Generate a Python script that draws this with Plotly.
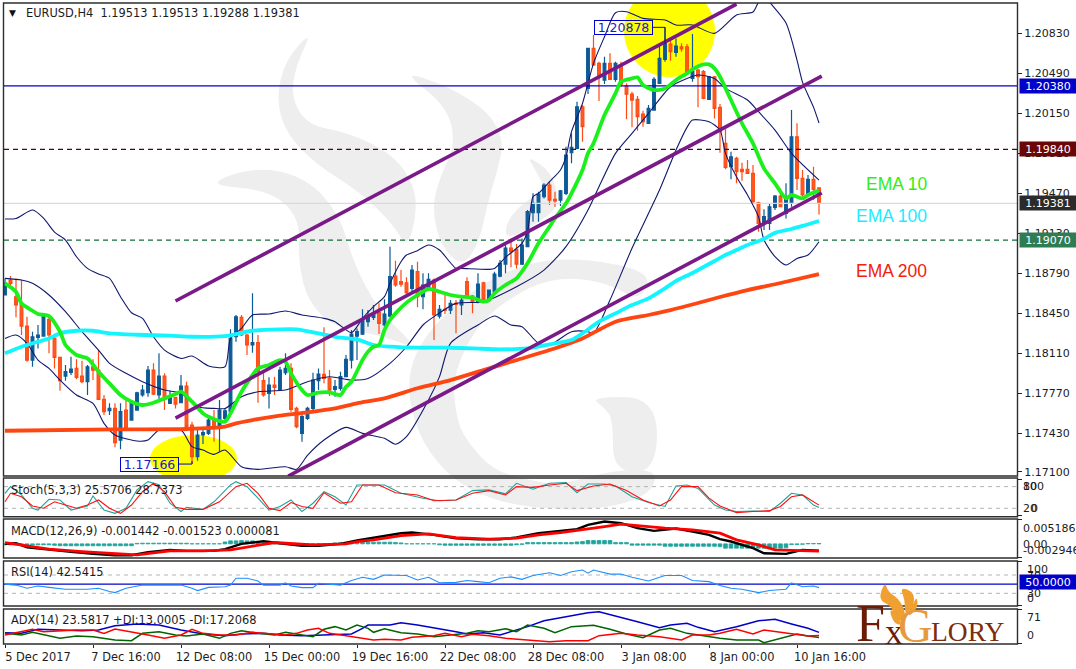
import plotly.graph_objects as go

# ---------- price data (4h bars) ----------
bar_index = list(range(149))
opens = [1.18603,1.18730,1.18588,1.18526,1.18339,1.18050,1.18243,1.18254,1.18396,1.18234,
1.18073,1.17914,1.17945,1.17979,1.17914,1.17866,1.17993,1.17965,1.17716,1.17620,
1.17639,1.17370,1.17625,1.17540,1.17625,1.17753,1.17772,1.17965,1.17753,1.17914,
1.17682,1.17733,1.17687,1.17829,1.17498,1.17229,1.17413,1.17427,1.17540,1.17469,
1.17554,1.17611,1.18248,1.18413,1.18263,1.18178,1.18198,1.17875,1.17767,1.17838,
1.17801,1.17943,1.17979,1.17639,1.17427,1.17555,1.17639,1.17875,1.17929,1.17894,
1.17801,1.17810,1.17909,1.18050,1.18254,1.18271,1.18376,1.18413,1.18453,1.18348,
1.18424,1.18764,1.18716,1.18707,1.18659,1.18801,1.18588,1.18668,1.18730,1.18424,
1.18481,1.18475,1.18532,1.18518,1.18716,1.18594,1.18546,1.18707,1.18560,1.18631,
1.18764,1.18866,1.19001,1.18991,1.18866,1.19013,1.19302,1.19302,1.19438,1.19538,
1.19416,1.19410,1.19467,1.19812,1.19849,1.20203,1.20359,1.20699,1.20572,1.20430,
1.20572,1.20436,1.20558,1.20379,1.20311,1.20266,1.20141,1.20062,1.20175,1.20402,
1.20606,1.20736,1.20665,1.20713,1.20713,1.20444,1.20515,1.20501,1.20266,1.20458,
1.20198,1.19892,1.19693,1.19764,1.19671,1.19671,1.19637,1.19388,1.19212,1.19212,
1.19348,1.19444,1.19297,1.19382,1.19948,1.19594,1.19453,1.19586,1.19513]
closes = [1.18702,1.18702,1.18518,1.18339,1.18050,1.18248,1.18263,1.18424,1.18263,1.18073,
1.17874,1.17951,1.17974,1.17903,1.17866,1.17993,1.17965,1.17716,1.17611,1.17639,
1.17347,1.17611,1.17469,1.17687,1.17772,1.17795,1.17965,1.17761,1.17914,1.17716,
1.17733,1.17676,1.17829,1.17484,1.17229,1.17413,1.17433,1.17540,1.17469,1.17625,
1.17619,1.18234,1.18418,1.18263,1.18178,1.18198,1.17951,1.17753,1.17838,1.17818,
1.17965,1.17979,1.17631,1.17484,1.17569,1.17639,1.17880,1.17931,1.17894,1.17795,
1.17824,1.17909,1.18056,1.18271,1.18291,1.18390,1.18419,1.18447,1.18362,1.18441,
1.18759,1.18688,1.18696,1.18622,1.18815,1.18588,1.18688,1.18736,1.18433,1.18481,
1.18475,1.18532,1.18523,1.18560,1.18588,1.18546,1.18696,1.18566,1.18645,1.18781,
1.18872,1.19001,1.18971,1.18866,1.19028,1.19311,1.19382,1.19461,1.19538,1.19410,
1.19402,1.19489,1.19793,1.19858,1.20203,1.20033,1.20699,1.20558,1.20458,1.20572,
1.20436,1.20572,1.20396,1.20311,1.20260,1.20118,1.20076,1.20189,1.20436,1.20614,
1.20742,1.20671,1.20719,1.20694,1.20492,1.20501,1.20458,1.20274,1.20458,1.20189,
1.19991,1.19688,1.19778,1.19651,1.19651,1.19637,1.19396,1.19212,1.19269,1.19353,
1.19444,1.19353,1.19438,1.19948,1.19594,1.19453,1.19586,1.19501,1.19381]
highs = [1.18744,1.18764,1.18744,1.18730,1.18418,1.18291,1.18348,1.18433,1.18433,1.18263,
1.18078,1.18008,1.18078,1.18056,1.18044,1.18008,1.18056,1.18135,1.17753,1.17682,
1.17682,1.17682,1.17710,1.17710,1.17781,1.17838,1.18000,1.18022,1.18107,1.17937,
1.17789,1.17738,1.17923,1.17866,1.17526,1.17469,1.17469,1.17568,1.17625,1.17710,
1.17639,1.18311,1.18433,1.18433,1.18271,1.18617,1.18263,1.17951,1.17903,1.17909,
1.17994,1.18107,1.18022,1.17654,1.17583,1.17654,1.17943,1.17979,1.18328,1.17965,
1.17880,1.17951,1.18093,1.18305,1.18319,1.18481,1.18475,1.18518,1.18532,1.18566,
1.19014,1.18894,1.18815,1.18753,1.18858,1.18886,1.18787,1.18787,1.18744,1.18518,
1.18617,1.18560,1.18560,1.18588,1.18753,1.18603,1.18787,1.18716,1.18645,1.18801,
1.18900,1.19028,1.19084,1.19036,1.19084,1.19325,1.19467,1.19481,1.19552,1.19566,
1.19481,1.19495,1.19863,1.19977,1.20246,1.20218,1.20699,1.20813,1.20586,1.20628,
1.20657,1.20586,1.20586,1.20402,1.20331,1.20294,1.20169,1.20218,1.20453,1.20742,
1.20878,1.20776,1.20784,1.20742,1.20736,1.20821,1.20529,1.20515,1.20458,1.20464,
1.20226,1.20011,1.19821,1.19778,1.19727,1.19750,1.19708,1.19396,1.19331,1.19382,
1.19453,1.19509,1.19552,1.20175,1.20062,1.19665,1.19623,1.19693,1.19513]
lows = [1.18603,1.18688,1.18413,1.18263,1.18036,1.17993,1.18149,1.18248,1.18107,1.17979,
1.17789,1.17874,1.17923,1.17886,1.17852,1.17753,1.17880,1.17710,1.17583,1.17583,
1.17308,1.17291,1.17461,1.17535,1.17619,1.17738,1.17738,1.17753,1.17710,1.17625,
1.17682,1.17639,1.17682,1.17469,1.17166,1.17195,1.17336,1.17413,1.17356,1.17271,
1.17540,1.17597,1.18206,1.18254,1.18093,1.18113,1.17688,1.17739,1.17639,1.17753,
1.17790,1.17923,1.17611,1.17470,1.17356,1.17540,1.17597,1.17795,1.17852,1.17744,
1.17739,1.17790,1.17903,1.17979,1.18050,1.18263,1.18334,1.18390,1.18271,1.18305,
1.18413,1.18673,1.18673,1.18611,1.18622,1.18498,1.18481,1.18645,1.18220,1.18404,
1.18441,1.18441,1.18277,1.18433,1.18574,1.18447,1.18532,1.18546,1.18546,1.18617,
1.18753,1.18787,1.18838,1.18829,1.18858,1.19008,1.19226,1.19226,1.19424,1.19368,
1.19353,1.19359,1.19453,1.19722,1.19841,1.19906,1.20311,1.20549,1.20252,1.20396,
1.20430,1.20416,1.20373,1.20096,1.20028,1.19999,1.20033,1.20056,1.20169,1.20402,
1.20586,1.20594,1.20628,1.20671,1.20473,1.20416,1.20198,1.20266,1.20260,1.20104,
1.19812,1.19671,1.19586,1.19552,1.19575,1.19631,1.19382,1.19141,1.19155,1.19155,
1.19325,1.19353,1.19254,1.19353,1.19495,1.19438,1.19453,1.19410,1.19288]

ema10_i = [0,2,3,5,6,8,10,11,13,15,17,19,21,23,25,27,29,31,32,34,36,37,40,41,43,45,46,48,50,51,52,54,55,57,59,61,62,63,65,66,67,68,69,70,71,73,75,77,79,81,83,85,87,88,89,91,93,95,97,99,100,102,103,105,106,107,109,111,112,114,115,116,118,120,122,124,125,127,128,129,130,132,134,136,138,140,142,143,145,146,148]
ema10 = [1.18702,1.18631,1.18532,1.18469,1.18441,1.18424,1.18291,1.18178,1.18093,1.18064,1.17951,1.17852,1.17753,1.17696,1.17668,1.17687,1.17724,1.17761,1.17781,1.17696,1.17597,1.17568,1.17526,1.17597,1.17781,1.17923,1.17979,1.18008,1.18050,1.18036,1.17937,1.17795,1.17753,1.17773,1.17775,1.17753,1.17823,1.17866,1.18050,1.18121,1.18163,1.18178,1.18305,1.18390,1.18447,1.18538,1.18603,1.18654,1.18631,1.18603,1.18589,1.18580,1.18546,1.18560,1.18617,1.18688,1.18744,1.18872,1.19042,1.19184,1.19254,1.19382,1.19467,1.19665,1.19807,1.19892,1.20133,1.20317,1.20416,1.20444,1.20453,1.20388,1.20345,1.20359,1.20430,1.20487,1.20521,1.20563,1.20563,1.20529,1.20458,1.20260,1.20062,1.19892,1.19679,1.19552,1.19424,1.19453,1.19424,1.19453,1.19490]

ema100_i = [0,3,5,8,10,13,16,19,24,30,34,40,45,50,53,57,60,64,67,70,75,80,85,90,95,100,103,105,108,111,114,117,120,122,125,129,131,133,135,138,140,143,145,148]
ema100 = [1.18107,1.18163,1.18192,1.18234,1.18277,1.18299,1.18299,1.18277,1.18265,1.18257,1.18248,1.18254,1.18299,1.18311,1.18311,1.18277,1.18248,1.18225,1.18178,1.18164,1.18155,1.18155,1.18149,1.18141,1.18149,1.18192,1.18220,1.18277,1.18376,1.18447,1.18518,1.18574,1.18659,1.18722,1.18790,1.18892,1.18943,1.18985,1.19028,1.19079,1.19131,1.19164,1.19190,1.19232]

ema200_i = [0,20,33,40,42,45,50,55,60,64,69,75,81,87,93,99,105,111,117,121,126,130,135,141,148]
ema200 = [1.17449,1.17461,1.17464,1.17484,1.17512,1.17540,1.17577,1.17605,1.17639,1.17682,1.17724,1.17810,1.17880,1.17965,1.18050,1.18135,1.18234,1.18376,1.18433,1.18475,1.18535,1.18586,1.18645,1.18705,1.18781]

bb_up_i = [0,2,5,7,9,11,13,15,17,19,21,23,25,27,29,32,34,37,40,41,43,45,48,51,54,58,60,63,65,67,69,70,72,73,75,77,79,82,83,88,89,91,94,95,96,97,99,101,102,103,105,107,109,111,113,116,120,122,125,129,133,136,137,138,139,142,144,145,147,148]
bb_up = [1.19249,1.19253,1.19325,1.19257,1.19138,1.19070,1.18928,1.18829,1.18781,1.18744,1.18588,1.18452,1.18404,1.18248,1.18135,1.18064,1.18084,1.18000,1.17993,1.18234,1.18319,1.18433,1.18441,1.18467,1.18433,1.18404,1.18376,1.18283,1.18404,1.18504,1.18589,1.18702,1.18886,1.18943,1.18980,1.19028,1.18985,1.18829,1.18829,1.18821,1.18829,1.18923,1.19042,1.19141,1.19438,1.19467,1.19566,1.19666,1.19779,1.19991,1.20232,1.20572,1.20798,1.21002,1.21011,1.20954,1.20940,1.20898,1.20898,1.20827,1.20983,1.21008,1.21093,1.21150,1.21093,1.20915,1.20600,1.20413,1.20200,1.20065]

bb_mid_i = [0,3,5,8,11,14,17,19,22,25,29,32,35,38,40,43,46,51,55,59,63,66,70,73,76,78,82,87,93,98,102,106,108,111,114,117,121,124,126,129,131,135,137,140,143,148]
bb_mid = [1.18744,1.18730,1.18702,1.18603,1.18461,1.18291,1.18135,1.18022,1.17937,1.17866,1.17795,1.17767,1.17653,1.17639,1.17639,1.17738,1.17781,1.17795,1.17866,1.17908,1.17880,1.17894,1.18022,1.18163,1.18348,1.18419,1.18532,1.18546,1.18674,1.18815,1.19014,1.19325,1.19523,1.19807,1.19977,1.20147,1.20373,1.20444,1.20473,1.20444,1.20359,1.20260,1.20161,1.20005,1.19807,1.19580]

bb_lo_i = [0,2,4,6,8,10,13,16,18,20,24,26,28,32,34,36,38,40,43,46,51,53,55,58,62,65,69,71,73,77,79,81,86,89,92,94,97,99,103,106,107,110,114,119,122,124,125,128,130,131,133,135,137,138,140,142,144,146,148]
bb_lo = [1.18234,1.18263,1.18192,1.18050,1.17979,1.17880,1.17753,1.17682,1.17512,1.17413,1.17362,1.17370,1.17455,1.17455,1.17314,1.17285,1.17248,1.17285,1.17143,1.17121,1.17143,1.17121,1.17240,1.17370,1.17478,1.17427,1.17385,1.17334,1.17399,1.17710,1.17909,1.18192,1.18348,1.18424,1.18348,1.18334,1.18192,1.18178,1.18291,1.18291,1.18277,1.18560,1.19000,1.19495,1.19835,1.20028,1.20090,1.20076,1.20005,1.19807,1.19608,1.19453,1.19268,1.19070,1.18929,1.18858,1.18914,1.18943,1.19056]

channel_i = [31, 133]
channel_top = [1.18552, 1.21076]
channel_mid_i = [31, 148.5]
channel_mid = [1.17557, 1.20464]
channel_low_i = [51.5, 148.5]
channel_low = [1.17064, 1.19470]

level_resistance = 1.20380
level_pivot = 1.19840
level_last = 1.19381
level_support = 1.19070
swing_low = 1.17166
swing_high = 1.20878

price_ticks = [1.20830,1.20490,1.20150,1.19810,1.19470,1.19130,1.18790,1.18450,1.18110,1.17770,1.17430,1.17100]
time_ticks = [0,16,32,48,64,80,96,112,128,144]
time_labels = ["5 Dec 2017","7 Dec 16:00","12 Dec 08:00","15 Dec 00:00","19 Dec 16:00","22 Dec 08:00","28 Dec 08:00","3 Jan 08:00","8 Jan 00:00","10 Jan 16:00"]

# ---------- indicators ----------
stoch_main_i = [0,1,3,5,6,8,10,12,15,16,18,20,22,24,26,28,30,32,33,36,38,41,42,44,46,48,50,52,54,56,58,60,62,64,66,69,72,76,79,82,85,88,91,93,96,99,102,104,106,109,111,114,117,120,122,124,126,129,131,133,136,139,141,143,145,147,148]
stoch_main = [61.5,80,57,20,15,45,43,15,26.5,54,15,6,20,71,93.8,85,34,11,23,17,38,84.6,93.8,80,48,15,25,43,11,34,66,52,29,84.6,84.6,84.6,61.5,48,41,43,69,71,60,89.2,73,89.2,91,63,87.4,87.4,81.8,52,36,25,81.8,84.6,75,29,15,11,12.6,11,34,61.5,57,29,22]
stoch_sig_i = [0,1,3,5,7,9,11,13,15,17,19,21,23,25,27,29,31,33,36,39,42,44,46,48,50,52,54,56,58,61,63,65,68,71,75,78,82,85,88,91,93,96,99,102,104,107,110,113,116,119,121,123,126,128,130,133,136,139,141,143,145,147,148]
stoch_sig = [38,61.5,52,26.5,20,38,29,20,29,43,20,6,29,66,89.2,66,23,17,17,38,80,89.2,61.5,20,13.5,36,25,20,63,34,38,84.6,84.6,63,57,41,43,61.5,69,57,80,78,84.6,89.2,69,81.8,87.4,69,43,26.5,43,80,80,48,26.5,8,11,13.5,25,52,57,38,28.7]

macd_main_i = [0,2,4,8,12,16,20,23,26,30,33,38,40,43,47,50,54,57,61,64,67,70,72,74,78,82,86,90,93,97,100,104,106,109,112,115,118,122,125,128,130,132,136,138,142,145,148]
macd_main = [0,0.00014,-0.00070,-0.00111,-0.00167,-0.00209,-0.00236,-0.00236,-0.00174,-0.00125,-0.00146,-0.00146,-0.00111,0,0.00056,0.00014,-0.00042,-0.00042,0,0.00070,0.00132,0.00188,0.00222,0.00236,0.00188,0.00118,0.00097,0.00097,0.00132,0.00222,0.00257,0.00306,0.00396,0.004657,0.00431,0.00327,0.00271,0.00320,0.00257,0.00188,0.00097,0.00049,-0.00090,-0.00195,-0.00209,-0.00125,-0.00144]
macd_sig_i = [0,3,8,14,20,24,30,36,41,45,49,56,62,64,67,72,77,82,88,93,97,101,105,109,112,116,120,125,130,133,137,140,144,148]
macd_sig = [0.00028,-0.00021,-0.00111,-0.00160,-0.00209,-0.00229,-0.00146,-0.00146,-0.00125,-0.00042,0.00028,-0.00021,0,0.00049,0.00083,0.00174,0.00209,0.00132,0.00097,0.00118,0.00188,0.00236,0.00292,0.00361,0.00410,0.00361,0.00327,0.00292,0.00222,0.00083,-0.00021,-0.00125,-0.00139,-0.00152]
macd_hist = [-0.0002,-0.0002,-0.0002,-0.0002,-0.0002,-0.0002,-0.0002,-0.0002,-0.0002,-0.0003,
-0.0004,-0.0004,-0.0004,-0.0004,-0.0004,-0.0004,-0.0004,-0.0004,-0.0004,-0.0004,
-0.0004,-0.0004,-0.0004,-0.0004,0.0001,0.00014,0.00014,0.00014,0.00014,0.00014,
0.00014,0.00014,0.00014,0.00014,0.00002,0.00002,0.00002,0.00002,0.00002,0.00002,
0.0004,0.00063,0.00063,0.0007,0.00063,0.00063,0.0005,0.00002,0.00002,0.00002,
0.00002,0.00002,0.00002,0.00002,0.00002,0.00002,0.00002,0.00002,0.00002,0.00002,
0.0002,0.0003,0.0003,0.0003,0.0003,0.00035,0.00035,0.00035,0.00035,0.00035,
0.00035,0.0003,0.0002,0.00002,0.00002,0.00002,0.00002,0.00002,0.00002,-0.0002,
-0.0003,-0.0003,-0.0003,-0.0003,-0.0003,-0.0003,-0.0003,-0.0003,-0.0003,-0.0003,
-0.0003,-0.0003,-0.0003,-0.0002,-0.0001,0.00028,0.00028,0.00028,0.00028,0.00028,
0.00028,0.00028,0.00028,0.00028,0.0004,0.0005,0.0007,0.0007,0.0007,0.0007,
0.0007,0.00028,0.00028,0.00028,-0.00028,-0.00028,-0.00028,-0.00028,-0.00028,-0.00028,
-0.0005,-0.0005,-0.0005,-0.0005,-0.0005,-0.0005,-0.0005,-0.0005,-0.0005,-0.0005,
-0.0006,-0.0009,-0.0009,-0.0009,-0.0009,-0.0009,-0.0009,-0.0009,-0.0009,-0.0009,
-0.0009,-0.0009,-0.0008,-0.00014,-0.00014,-0.00008,0.00008,0.00008,0.00008]

rsi_i = [0,2,4,6,8,11,15,17,19,20,22,25,28,32,34,35,37,40,41,42,44,46,47,50,51,52,54,56,57,59,61,63,65,67,69,73,75,77,79,82,84,86,88,90,92,94,96,99,101,103,105,106,107,110,112,114,117,120,123,125,128,130,132,134,137,139,142,143,145,147,148]
rsi_vals = [50,48,41,46,43,39,39,41,34,31.5,41,48,48,48,41,36,43,44.5,48,63,63,57,48,48,53,46,42.4,42.4,52,50,48,58,65,60.5,70,69,59,65,53,54,58,55.5,53,63,66,60.5,69,75,69,77,81,74,81,72,72,65,57,69,69,58,55.5,47,41,39,31.5,36,39,53,44.5,46,42.5]

adx_i = [0,3,6,10,14,17,20,24,28,32,36,40,43,47,50,54,57,60,63,65,66,70,72,75,78,82,84,87,90,92,95,98,102,106,108,111,115,119,121,124,126,129,133,137,140,143,146,148]
adx_vals = [23,21.6,29.8,28.4,27,28.4,37.2,40.6,38.5,28.4,20.3,16.9,20.3,21.6,18.3,16.9,18.3,20.3,20.3,31.8,38.5,38.5,43.3,38.5,33.1,25,20.3,23,18.3,25,35.2,47.3,55.5,63.6,65.6,57.5,45.3,33.1,38.5,42,33.8,25,35.2,47.3,50,40.6,31.8,23.6]
plus_di_i = [0,3,5,7,10,13,16,20,23,25,28,31,33,36,39,41,43,46,49,51,54,56,58,60,62,64,66,67,69,72,75,78,81,84,86,88,91,93,95,98,100,103,105,107,110,113,116,119,121,124,127,130,133,137,138,141,144,146,148]
plus_di = [21.6,18.3,23.7,18.3,11.5,16.2,14.9,8.1,6.8,21.6,25,18.3,16.2,20.3,11.5,21.6,27,21.6,18.3,23.7,18.3,14.9,29.8,35.2,28.4,38.5,31.8,23.7,31.1,23,20.3,14.9,18.3,21.6,27,25,31.1,25,38.5,31.8,23,35.2,36.5,37.9,29.8,20.3,12.8,28.4,31.8,21.6,16.9,11.5,8.1,8.1,2.7,11.5,20.3,16.2,13]
minus_di_i = [0,3,5,7,10,13,16,18,20,23,26,29,32,34,36,39,42,45,48,51,53,55,57,59,62,65,67,69,72,74,78,80,83,85,88,91,95,99,102,106,108,112,115,119,123,125,128,130,133,136,138,140,143,146,148]
minus_di = [18.3,25,29.8,25,27,28.4,28.4,21.6,30.4,25,18.3,11.5,18.3,29.8,21.6,18.3,18.3,23.7,20.3,18.3,21.6,28.4,31.8,21.6,16.9,11.5,8.1,9.5,8.1,13.5,16.9,21.6,14.9,19.6,16.9,11.5,8.1,4.7,6.8,6.8,16.9,21.6,18.3,14.9,8.1,18.3,18.3,21.6,29.8,20.3,28.4,25,20.3,16.2,17.2]

stoch_levels = [80, 20]
rsi_levels = [70, 30]
rsi_mid = 50.0

W, H = 1076, 669
def px(x): return x / W
def py(y): return 1 - y / H
def price_at(y): return 1.211105 - 0.000085 * y
def bar_at(x): return (x - 5) / 5.5

def smooth(points):
    n = len(points)
    mx, my = (points[-1][0] + points[0][0]) / 2, (points[-1][1] + points[0][1]) / 2
    d = f"M {px(mx):.5f},{py(my):.5f} "
    for k in range(n):
        a = points[k]; b = points[(k + 1) % n]
        m = ((a[0] + b[0]) / 2, (a[1] + b[1]) / 2)
        d += f"Q {px(a[0]):.5f},{py(a[1]):.5f} {px(m[0]):.5f},{py(m[1]):.5f} "
    return d + "Z"

XMAX = bar_at(1017)
XMIN = bar_at(4)
FONT = "DejaVu Sans"
TXT = "#1c1c1c"

fig = go.Figure()

def line(xs, ys, color, width, yaxis="y", shape="linear", dash=None):
    fig.add_trace(go.Scatter(x=xs, y=ys, mode="lines", yaxis=yaxis, hoverinfo="skip", showlegend=False,
                             line=dict(color=color, width=width, shape=shape, smoothing=0.7, dash=dash)))

# main panel
line([XMIN, XMAX], [level_last]*2, "#d9d9d9", 1.3)
line([XMIN, XMAX], [level_pivot]*2, "#4a0808", 1.2, dash="5px,4px")
line([XMIN, XMAX], [level_support]*2, "#0f6e3a", 1.2, dash="5px,4px")
line([XMIN, XMAX], [level_resistance]*2, "#0000d0", 1.3)

fig.add_trace(go.Candlestick(x=bar_index, open=opens, high=highs, low=lows, close=closes, whiskerwidth=0,
    increasing=dict(line=dict(color="#0d5a98", width=1.2), fillcolor="#0d5a98"),
    decreasing=dict(line=dict(color="#ff4a12", width=1.2), fillcolor="#ff5a25"),
    hoverinfo="skip", showlegend=False))

line(bb_up_i, bb_up, "#10186f", 1.1, shape="spline")
line(bb_mid_i, bb_mid, "#10186f", 1.1, shape="spline")
line(bb_lo_i, bb_lo, "#10186f", 1.1, shape="spline")
line(ema200_i, ema200, "#ff4510", 3.8, shape="spline")
line(ema100_i, ema100, "#14f4ff", 3.8, shape="spline")
line(ema10_i, ema10, "#1cf01c", 3.8, shape="spline")
line(channel_i, channel_top, "#7a1a88", 3.6)
line(channel_mid_i, channel_mid, "#7a1a88", 3.6)
line(channel_low_i, channel_low, "#7a1a88", 3.6)
line([bar_at(178), 34, 34], [swing_low, swing_low, swing_low + 0.00025], "#0000c8", 1)
line([bar_at(652), 120, 120], [swing_high, swing_high, swing_high - 0.00140], "#10186f", 1)

# stochastic
for lv in stoch_levels:
    line([XMIN, XMAX], [lv, lv], "#b4b4b4", 1, yaxis="y2", dash="4px,4px")
line(stoch_main_i, stoch_main, "#1fa39a", 1.1, yaxis="y2")
line(stoch_sig_i, stoch_sig, "#ff1010", 1.1, yaxis="y2")

# MACD
fig.add_trace(go.Bar(x=bar_index, y=macd_hist, yaxis="y3", width=0.68, marker=dict(color="#1fa39a", line=dict(color="#1fa39a", width=0.8)),
                     hoverinfo="skip", showlegend=False))
line(macd_main_i, macd_main, "#000000", 2.4, yaxis="y3")
line(macd_sig_i, macd_sig, "#ff0000", 2.8, yaxis="y3")

# RSI
for lv in rsi_levels:
    line([XMIN, XMAX], [lv, lv], "#b4b4b4", 1, yaxis="y4", dash="4px,4px")
line([XMIN, XMAX], [rsi_mid, rsi_mid], "#0000d0", 1.3, yaxis="y4")
line(rsi_i, rsi_vals, "#1e8fff", 1.1, yaxis="y4")

# ADX
line(adx_i, adx_vals, "#0000c8", 1.5, yaxis="y5")
line(plus_di_i, plus_di, "#006400", 1.5, yaxis="y5")
line(minus_di_i, minus_di, "#ff0000", 1.5, yaxis="y5")

shapes = []
GREY = "#eeeeee"
wm = [
 [(313,30),(285,60),(276,100),(287,135),(317,165),(360,192),(393,224),(408,250),(418,205),(410,177),(390,153),(350,133),(307,125),(291,97),(296,65)],
 [(400,70),(450,87),(490,113),(504,142),(497,172),(487,205),(480,240),(463,268),(440,245),(432,207),(440,177),(456,143),(446,105)],
 [(526,155),(552,172),(560,205),(540,222),(507,240),(505,225),(520,205),(545,190),(537,172)],
 [(203,185),(257,166),(307,178),(340,215),(353,262),(378,310),(420,350),(380,335),(335,328),(308,302),(298,262),(300,218),(270,190)],
 [(653,272),(583,258),(527,262),(470,290),(420,340),(406,385),(418,435),(443,470),(470,490),(510,505),(577,511),(627,504),(653,490),(657,470),(613,470),(560,485),(527,480),(493,470),(470,445),(457,423),(452,375),(480,320),(530,285),(570,277),(610,284),(640,302)],
 [(590,397),(657,397),(657,472),(613,472),(613,420),(605,408)],
]
for pts in wm:
    shapes.append(dict(type="path", path=smooth(pts), xref="paper", yref="paper", fillcolor=GREY, line=dict(width=0), layer="below"))

shapes.append(dict(type="circle", xref="x", yref="y", x0=bar_at(150), x1=bar_at(237), y0=price_at(482), y1=price_at(435),
                   fillcolor="#ffff00", line=dict(width=0), layer="below"))
shapes.append(dict(type="circle", xref="x", yref="y", x0=bar_at(624), x1=bar_at(715), y0=price_at(77), y1=price_at(-15),
                   fillcolor="#ffff00", line=dict(width=0), layer="below"))

panels = [(3, 476), (478, 516.7), (519, 558), (561, 606), (609, 644)]
for top, bot in panels:
    shapes.append(dict(type="rect", xref="paper", yref="paper", x0=px(3.5), x1=px(1017.5), y0=py(bot), y1=py(top),
                       line=dict(color="#2e2e2e", width=1.4), fillcolor="rgba(0,0,0,0)", layer="above"))

flames = [
 [(885,581),(888,592),(898,598),(906,612),(902,622),(894,618),(892,606),(878,600)],
 [(900,587),(914,592),(914,606),(905,616),(905,600)],
 [(917,596),(918,608),(907,618),(912,606)],
 [(889,608),(899,616),(901,626),(893,622)],
]
for pts in flames:
    shapes.append(dict(type="path", path=smooth(pts), xref="paper", yref="paper", fillcolor="#f0a030", line=dict(width=0), layer="above"))

ann = []
LBL = 11.4
def T(x, y, text, size=LBL, color=TXT, family=FONT, anchor="left", **kw):
    ann.append(dict(x=px(x), y=py(y), xref="paper", yref="paper", text=text, showarrow=False, xanchor=anchor, yanchor="middle",
                    font=dict(family=family, size=size, color=color), borderpad=0, **kw))

T(8, 13, "▼", size=9, color="#111111")
T(25, 13, "EURUSD,H4  1.19513 1.19513 1.19288 1.19381")
T(865, 184, "EMA 10", size=17.5, color="#33ee11", family="Liberation Sans")
T(855, 215.5, "EMA 100", size=17.5, color="#19eeff", family="Liberation Sans")
T(855, 271.5, "EMA 200", size=17.5, color="#f5200a", family="Liberation Sans")

T(10, 489.5, "Stoch(5,3,3) 25.5706 28.7373")
T(10, 530.5, "MACD(12,26,9) -0.001442 -0.001523 0.000081")
T(10, 571.5, "RSI(14) 42.5415")
T(10, 620, "ADX(14) 23.5817 +DI:13.0005 -DI:17.2068")

# sub-panel scale labels, which overlap in the source terminal
for y, t, x in [(486.5,"100",1022),(486.5,"80",1022),(508.5,"20",1022),(508.5,"0",1030),
                (528,"0.005186",1022),(544,"0.00",1022),(550,"-0.002946",1022),
                (569,"100",1026),(575,"70",1026),(593.5,"30",1026),(598.5,"0",1026),
                (617.5,"71",1026),(635,"0",1026)]:
    T(x, y, t, size=11)

def box(y, text, bg):
    ann.append(dict(x=px(1048), y=py(y), xref="paper", yref="paper", text=text, showarrow=False, xanchor="center", yanchor="middle",
                    width=56, height=14, bgcolor=bg, borderpad=0, font=dict(family=FONT, size=11, color="#ffffff")))
box(86, "1.20380", "#0000c8")
box(149, "1.19840", "#6b0606")
box(203.5, "1.19381", "#2b2b2b")
box(240, "1.19070", "#2e7d52")
box(582, "50.0000", "#0000c8")

for x, y, t in [(149.5, 464, "1.17166"), (623, 27, "1.20878")]:
    ann.append(dict(x=px(x), y=py(y), xref="paper", yref="paper", text=t, showarrow=False, xanchor="center", yanchor="middle",
                    width=57, height=13, bordercolor="#0000c8", borderwidth=1, borderpad=0,
                    font=dict(family=FONT, size=12.5, color="#1a1ad0")))

LOGO = "Liberation Serif"
T(855, 623, "F", size=52, color="#6a1c08", family=LOGO)
T(884, 632, "x", size=36, color="#6a1c08", family=LOGO)
T(897, 625, "G", size=48, color="#e59a3e", family=LOGO)
T(930, 631, "LORY", size=27.5, color="#7d2c0c", family=LOGO)

axis_common = dict(showgrid=False, zeroline=False, fixedrange=True, anchor="x", side="right", showline=False, automargin=False,
                   ticks="outside", ticklen=4, tickcolor="#222222", tickwidth=1)

def dom(top, bot): return [py(bot), py(top)]

fig.update_layout(
    width=W, height=H, autosize=False, margin=dict(l=0, r=0, t=0, b=0, autoexpand=False),
    paper_bgcolor="#ffffff", plot_bgcolor="rgba(0,0,0,0)", showlegend=False, barmode="overlay",
    font=dict(family=FONT, size=11, color=TXT),
    shapes=shapes, annotations=ann,
    xaxis=dict(domain=[px(4), px(1017)], range=[XMIN, XMAX], anchor="y5", showgrid=False, zeroline=False, showline=False, automargin=False,
               rangeslider=dict(visible=False), tickmode="array", tickvals=time_ticks, ticktext=time_labels,
               ticks="outside", ticklen=3, tickcolor="#222222", ticklabelshift=33, ticklabelstandoff=-1, fixedrange=True,
               tickfont=dict(family=FONT, size=11.4, color=TXT)),
    yaxis=dict(domain=dom(3, 476), range=[price_at(476), price_at(3)], tickmode="array", tickvals=price_ticks,
               ticktext=[f"{v:.5f}" for v in price_ticks], tickfont=dict(family=FONT, size=11, color=TXT), **axis_common),
    yaxis2=dict(domain=dom(478, 516.7), range=[-3.3, 103.9], tickmode="array", tickvals=[100, 0], showticklabels=False, **axis_common),
    yaxis3=dict(domain=dom(519, 558), range=[-0.002946, 0.005186], tickmode="array", tickvals=[0.00515, -0.0029], showticklabels=False, **axis_common),
    yaxis4=dict(domain=dom(561, 606), range=[2.3, 100.6], tickmode="array", tickvals=[100, 3], showticklabels=False, **axis_common),
    yaxis5=dict(domain=dom(609, 644), range=[0, 71], tickmode="array", tickvals=[70.5, 0.5], showticklabels=False, **axis_common),
)

fig.write_html("out.html", config=dict(displayModeBar=False), post_script="document.body.style.margin='0';document.body.style.overflow='hidden';")
